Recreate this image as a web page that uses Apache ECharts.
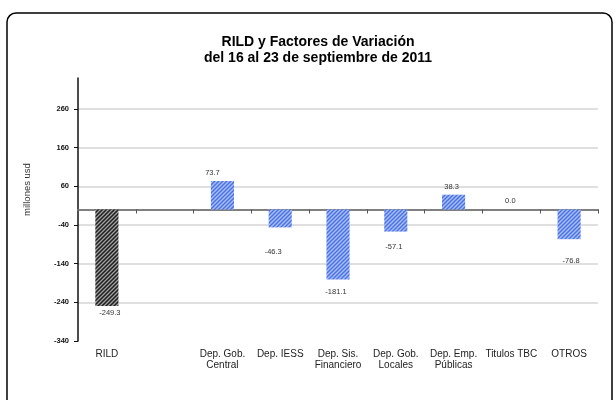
<!DOCTYPE html>
<html>
<head>
<meta charset="utf-8">
<script src="https://cdn.jsdelivr.net/npm/echarts@6/dist/echarts.min.js"></script>
<style>
html,body{margin:0;padding:0;background:#fff;}
#chart{width:616px;height:400px;}
</style>
</head>
<body>
<div id="chart"></div>
<script>
// ---- data ----
const categories = ['RILD', '', 'Dep. Gob.\nCentral', 'Dep. IESS', 'Dep. Sis.\nFinanciero', 'Dep. Gob.\nLocales', 'Dep. Emp.\nPúblicas', 'Titulos TBC', 'OTROS'];
const values = [-249.3, null, 73.7, -46.3, -181.1, -57.1, 38.3, 0.0, -76.8];
const yTicks = [-340, -240, -140, -40, 60, 160, 260];
const yMin = -340, yMax = 340, yStep = 100;
const titleLines = ['RILD y Factores de Variación', 'del 16 al 23 de septiembre de 2011'];
const yName = 'millones usd';

// ---- styling helpers ----
function makePattern(bg, fg) {
  const c = document.createElement('canvas');
  c.width = 4; c.height = 4;
  const ctx = c.getContext('2d');
  ctx.fillStyle = bg; ctx.fillRect(0, 0, 4, 4);
  ctx.strokeStyle = fg; ctx.lineWidth = 1.5;
  ctx.beginPath();
  ctx.moveTo(-1, 5); ctx.lineTo(5, -1);
  ctx.moveTo(-1, 1); ctx.lineTo(1, -1);
  ctx.moveTo(3, 5); ctx.lineTo(5, 3);
  ctx.stroke();
  return c;
}
const darkPat = { image: makePattern('#a0a0a0', '#1e1e1e'), repeat: 'repeat' };
const bluePat = { image: makePattern('#abc0f7', '#4a72e6'), repeat: 'repeat' };

// label placement tweaks (style only)
const labelDist = [3, 0, 4, 21, 8, 11, 4, 5, 18];
const labelDx = [3, 0, -10, -7, -2, -2, -2, -1, 2];

const seriesData = values.map((v, i) => {
  if (v === null) return '-';
  return {
    value: v,
    itemStyle: { color: i === 0 ? darkPat : bluePat },
    label: {
      position: v < 0 ? 'bottom' : 'top',
      distance: labelDist[i],
      offset: [labelDx[i], 0]
    }
  };
});

const chart = echarts.init(document.getElementById('chart'), null, { renderer: 'canvas' });
chart.setOption({
  animation: false,
  backgroundColor: '#fff',
  title: {
    text: titleLines.join('\n'),
    left: 318,
    textAlign: 'center',
    top: 34,
    padding: 0,
    textStyle: { fontFamily: 'Liberation Sans, Arial, sans-serif', fontSize: 14, fontWeight: 'bold', color: '#000', lineHeight: 16 }
  },
  graphic: [{
    type: 'rect',
    shape: { x: 7, y: 13, width: 605, height: 420, r: 9 },
    style: { fill: 'none', stroke: '#000', lineWidth: 1.5 },
    z: 100
  }],
  grid: { left: 78, right: 18, top: 78, bottom: 59 },
  xAxis: [{
    type: 'category',
    data: categories,
    position: 'bottom',
    axisLine: { show: false, onZero: false },
    axisTick: { show: false },
    axisLabel: {
      interval: 0, margin: 8,
      fontFamily: 'Liberation Sans, Arial, sans-serif', fontSize: 10, lineHeight: 11, color: '#222'
    }
  }, {
    type: 'category',
    data: categories,
    position: 'top',
    axisLine: { show: true, onZero: true, lineStyle: { color: '#808080', width: 2 } },
    axisTick: { show: true, inside: true, length: 4, interval: 0, lineStyle: { color: '#555', width: 1 } },
    axisLabel: { show: false },
    splitLine: { show: false }
  }],
  yAxis: {
    type: 'value',
    min: yMin, max: yMax, interval: yStep,
    name: yName,
    nameLocation: 'middle',
    nameRotate: 90,
    nameGap: 46,
    nameTextStyle: { fontFamily: 'Liberation Sans, Arial, sans-serif', fontSize: 9.5, color: '#333', padding: [0, 0, 0, 40] },
    axisLine: { show: true, onZero: false, lineStyle: { color: '#111', width: 1.5 } },
    axisTick: { show: true, length: 4, lineStyle: { color: '#111', width: 1 } },
    axisLabel: {
      showMaxLabel: false, margin: 9,
      fontFamily: 'Liberation Sans, Arial, sans-serif', fontSize: 7.5, fontWeight: 'bold', color: '#111',
      formatter: v => (yTicks.indexOf(v) >= 0 ? String(v) : '')
    },
    splitLine: { show: true, showMinLine: false, showMaxLine: false, lineStyle: { color: '#d4d4d4', width: 1.5 } }
  },
  series: [{
    type: 'bar',
    xAxisIndex: 0,
    data: seriesData,
    barWidth: '40%',
    label: {
      show: true,
      fontFamily: 'Liberation Sans, Arial, sans-serif', fontSize: 7.5, color: '#333',
      formatter: p => Number(p.value).toFixed(1)
    }
  }]
});
</script>
</body>
</html>
